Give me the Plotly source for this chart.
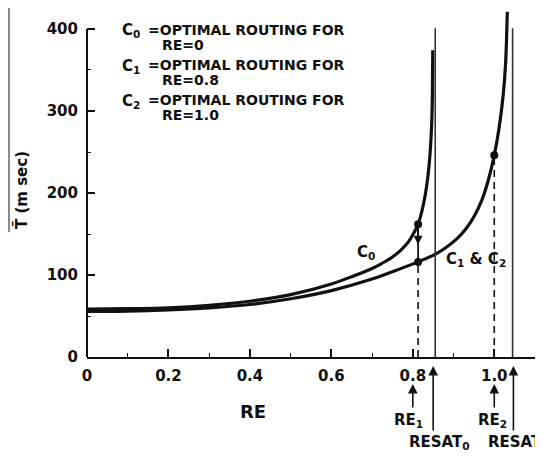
import plotly.graph_objects as go

# ---- data ----
re_c0 = [0, 0.1, 0.2, 0.3, 0.4, 0.5, 0.6, 0.65, 0.7, 0.72, 0.75, 0.77, 0.79, 0.8, 0.813,
         0.826, 0.836, 0.842, 0.846, 0.848, 0.849]
t_c0 = [58.5, 59, 60, 63, 68, 76, 89, 98, 108, 113, 122, 130, 141, 149, 162,
        186, 216, 246, 280, 318, 374]

re_c12 = [0, 0.1, 0.2, 0.3, 0.4, 0.5, 0.6, 0.7, 0.75, 0.813, 0.85, 0.88, 0.91, 0.93, 0.95, 0.97,
          0.985, 1.0, 1.012, 1.022, 1.028, 1.032]
t_c12 = [55.5, 56, 57.5, 60, 64, 71, 81, 95, 104, 116, 124, 133, 145, 156, 171, 192,
         215, 246, 280, 320, 360, 421]

re1 = 0.813
re2 = 1.0
t_re1_c0 = 162
t_re1_c12 = 116
t_re2_c12 = 246
resat = [0.855, 1.045]
resat_top = 401

x_tick_vals = [0, 0.2, 0.4, 0.6, 0.8, 1.0, 1.1]
x_tick_text = ["0", "0.2", "0.4", "0.6", "0.8", "1.0", ""]
x_minor = [0.1, 0.3, 0.5, 0.7, 0.9]
y_tick_vals = [0, 100, 200, 300, 400]
y_minor = [50, 150, 250, 350]

legend_lines = [
    ("C<sub>0</sub>", "=OPTIMAL ROUTING FOR", "RE=0"),
    ("C<sub>1</sub>", "=OPTIMAL ROUTING FOR", "RE=0.8"),
    ("C<sub>2</sub>", "=OPTIMAL ROUTING FOR", "RE=1.0"),
]

# ---- figure ----
# page has an 8px body margin; positions below are in page pixels
OFF = 8
W, H = 543, 458
PL, PR, PT, PB = 87, 535, 8, 357          # plot area in page pixels
PW, PH = PR - PL, PB - PT
Y_TOP = 425.6


def px(xp):
    return (xp - PL) / PW


def py(yp):
    return (PB - yp) / PH


FONT = "DejaVu Sans"
BLACK = "#111111"

fig = go.Figure()

fig.add_trace(go.Scatter(x=re_c0, y=t_c0, mode="lines",
                         line=dict(color=BLACK, width=3.2, shape="spline", smoothing=0.8),
                         hoverinfo="skip", showlegend=False))
fig.add_trace(go.Scatter(x=re_c12, y=t_c12, mode="lines",
                         line=dict(color=BLACK, width=3.2, shape="spline", smoothing=0.8),
                         hoverinfo="skip", showlegend=False))
for r in resat:
    fig.add_trace(go.Scatter(x=[r, r], y=[0, resat_top], mode="lines",
                             line=dict(color="#333333", width=1.6),
                             hoverinfo="skip", showlegend=False))
fig.add_trace(go.Scatter(x=[re1, re1], y=[0, t_re1_c12], mode="lines",
                         line=dict(color=BLACK, width=1.6, dash="7px,5px"),
                         hoverinfo="skip", showlegend=False))
fig.add_trace(go.Scatter(x=[re2, re2], y=[0, t_re2_c12], mode="lines",
                         line=dict(color=BLACK, width=1.6, dash="7px,5px"),
                         hoverinfo="skip", showlegend=False))
fig.add_trace(go.Scatter(x=[re1, re1], y=[t_re1_c12, t_re1_c0], mode="lines",
                         line=dict(color=BLACK, width=1.8),
                         hoverinfo="skip", showlegend=False))
fig.add_trace(go.Scatter(x=[re1, re1, re2], y=[t_re1_c0, t_re1_c12, t_re2_c12], mode="markers",
                         marker=dict(color=BLACK, size=8),
                         hoverinfo="skip", showlegend=False))

annotations = []
annotations.append(dict(x=re1, y=(t_re1_c0 + t_re1_c12) / 2 - 2, ax=re1, ay=t_re1_c0,
                        axref="x", ayref="y", xref="x", yref="y", text="",
                        showarrow=True, arrowhead=2, arrowsize=1.1, arrowwidth=1.6,
                        arrowcolor=BLACK))

f15 = dict(family=FONT, size=15, color=BLACK, weight="bold")
f14 = dict(family=FONT, size=14, color=BLACK, weight="bold")

annotations.append(dict(x=px(355), y=py(253), xref="paper", yref="paper", text="C<sub>0</sub>",
                        xanchor="left", yanchor="middle", showarrow=False, font=f15))
annotations.append(dict(x=px(444), y=py(259), xref="paper", yref="paper",
                        text="C<sub>1</sub> & C<sub>2</sub>",
                        xanchor="left", yanchor="middle", showarrow=False, font=f15))

row_y = [30, 65, 100]
for (c, desc, re_txt), yy in zip(legend_lines, row_y):
    annotations.append(dict(x=px(120), y=py(yy + 1), xref="paper", yref="paper", text=c,
                            xanchor="left", yanchor="middle", showarrow=False, font=f15))
    annotations.append(dict(x=px(146), y=py(yy), xref="paper", yref="paper", text=desc,
                            xanchor="left", yanchor="middle", showarrow=False, font=f14))
    annotations.append(dict(x=px(160), y=py(yy + 15), xref="paper", yref="paper", text=re_txt,
                            xanchor="left", yanchor="middle", showarrow=False, font=f14))

for xv, head, tail in [(0.8, 384, 409), (0.85, 366, 432), (1.0, 384, 409), (1.047, 366, 432)]:
    annotations.append(dict(x=xv / 1.1, y=py(head), xref="paper", yref="paper",
                            ax=0, ay=tail - head, text="", showarrow=True,
                            arrowhead=2, arrowsize=1.2, arrowwidth=1.6, arrowcolor=BLACK))

for txt, xl, yc in [("RE<sub>1</sub>", 392, 420), ("RESAT<sub>0</sub>", 407, 442),
                    ("RE<sub>2</sub>", 476, 420), ("RESAT<sub>1</sub>", 486, 442)]:
    annotations.append(dict(x=px(xl), y=py(yc), xref="paper", yref="paper", text=txt,
                            xanchor="left", yanchor="middle", showarrow=False, font=f15))

annotations.append(dict(x=px(253), y=py(412), xref="paper", yref="paper", text="RE",
                        xanchor="center", yanchor="middle", showarrow=False,
                        font=dict(family=FONT, size=18, color=BLACK, weight="bold")))
annotations.append(dict(x=px(21), y=py(190), xref="paper", yref="paper", text="T\u0304 (m sec)",
                        xanchor="center", yanchor="middle", textangle=-90, showarrow=False,
                        font=dict(family=FONT, size=15, color=BLACK, weight="bold")))

shapes = [
    dict(type="line", xref="paper", yref="paper", x0=0, x1=0, y0=0, y1=400 / Y_TOP,
         line=dict(color=BLACK, width=2)),
    dict(type="line", xref="paper", yref="paper", x0=px(9), x1=px(9), y0=py(8), y1=py(232),
         line=dict(color="#8a8a8a", width=2)),
]

fig.update_layout(
    width=W, height=H,
    margin=dict(l=PL - OFF, r=W - (PR - OFF), t=PT - OFF, b=H - (PB - OFF), pad=0),
    paper_bgcolor="white", plot_bgcolor="white",
    showlegend=False,
    annotations=annotations,
    shapes=shapes,
    font=dict(family=FONT, color=BLACK),
    xaxis=dict(range=[0, 1.1], showgrid=False, zeroline=False,
               showline=True, linecolor=BLACK, linewidth=2,
               tickmode="array", tickvals=x_tick_vals, ticktext=x_tick_text,
               ticks="inside", ticklen=8, tickwidth=1.6, tickcolor=BLACK,
               minor=dict(tickvals=x_minor, ticks="inside", ticklen=4, tickwidth=1.4, tickcolor=BLACK),
               tickfont=f15, ticklabelstandoff=4),
    yaxis=dict(range=[0, Y_TOP], showgrid=False, zeroline=False, showline=False,
               tickmode="array", tickvals=y_tick_vals,
               ticks="inside", ticklen=8, tickwidth=1.6, tickcolor=BLACK,
               minor=dict(tickvals=y_minor, ticks="inside", ticklen=4, tickwidth=1.4, tickcolor=BLACK),
               tickfont=f15, ticklabelstandoff=8),
)

fig.write_html("out.html")
